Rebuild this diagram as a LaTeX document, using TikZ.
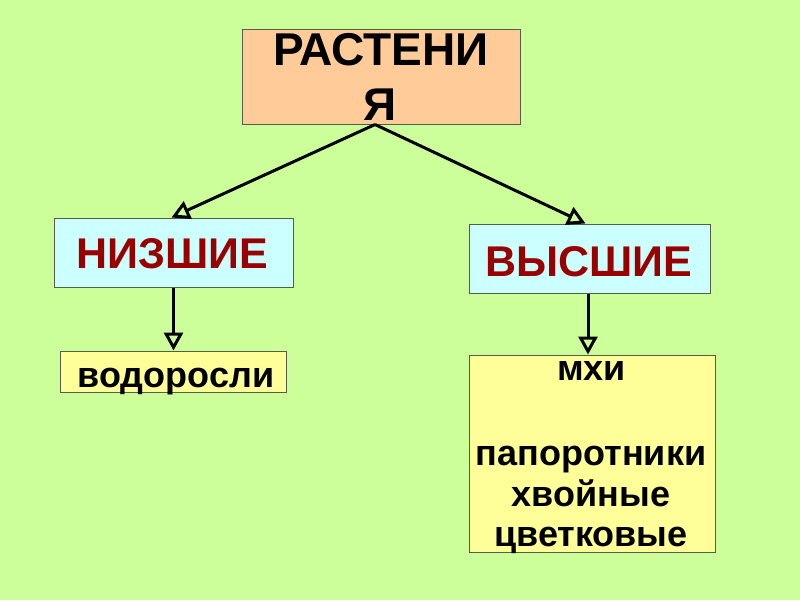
\documentclass[tikz,border=0pt]{standalone}
\usepackage{fontspec}
\setmainfont{Liberation Sans}
\usetikzlibrary{arrows.meta}
\definecolor{bg}{HTML}{CCFF99}
\definecolor{peach}{HTML}{FFCC99}
\definecolor{cyanbox}{HTML}{CCFFFF}
\definecolor{yel}{HTML}{FFFF99}
\definecolor{dred}{HTML}{990000}
\definecolor{edge}{HTML}{555F48}
\begin{document}
\begin{tikzpicture}[x=1pt,y=-1pt,
  box/.style={draw=edge, line width=1pt, rectangle, inner sep=0pt},
  lbl/.style={anchor=base, inner sep=0pt, font=\bfseries},
  arr/.style={line width=3pt, -{Triangle[open, length=18pt, width=19pt, line width=3pt]}}]
\fill[bg] (0,0) rectangle (800,600);
\useasboundingbox (0,0) rectangle (800,600);
% boxes
\node[box, fill=peach, minimum width=278pt, minimum height=95pt] (top) at (381,76.5) {};
\node[box, fill=cyanbox, minimum width=239pt, minimum height=69pt] (low) at (173.5,252.5) {};
\node[box, fill=cyanbox, minimum width=241pt, minimum height=69pt] (high) at (589.5,258.5) {};
\node[box, fill=yel, minimum width=226pt, minimum height=41pt] (alg) at (173,371.5) {};
\node[box, fill=yel, minimum width=246pt, minimum height=197pt] (big) at (592,453.5) {};
% arrows
\draw[arr] ([xshift=-6pt]top.south) -- ([xshift=-2pt]low.north);
\draw[arr] ([xshift=-6pt]top.south) -- ([xshift=-4pt]high.north);
\draw[arr] (low.south) -- (low.south |- alg.north);
\draw[arr] ([xshift=-1.5pt]high.south) -- ([xshift=-1.5pt]high.south |- big.north);
% texts
\node[lbl, font=\fontsize{46}{55}\selectfont\bfseries] (t1) at (381,65) {РАСТЕНИ};
\node[lbl, font=\fontsize{46}{55}\selectfont\bfseries] (t2) at (380,120) {Я};
\node[lbl, font=\fontsize{43}{50}\selectfont\bfseries, text=dred] (t3) at (172,268) {НИЗШИЕ};
\node[lbl, font=\fontsize{43}{50}\selectfont\bfseries, text=dred] (t4) at (589,276) {ВЫСШИЕ};
\node[lbl, font=\fontsize{36}{42}\selectfont\bfseries] (t5) at (176,387) {водоросли};
\node[lbl, font=\fontsize{36}{42}\selectfont\bfseries] (t6) at (591.5,380) {мхи};
\node[lbl, font=\fontsize{36}{42}\selectfont\bfseries] (t7) at (591,465) {папоротники};
\node[lbl, font=\fontsize{36}{42}\selectfont\bfseries] (t8) at (591,506) {хвойные};
\node[lbl, font=\fontsize{36}{42}\selectfont\bfseries] (t9) at (591,546) {цветковые};
\end{tikzpicture}
\end{document}
